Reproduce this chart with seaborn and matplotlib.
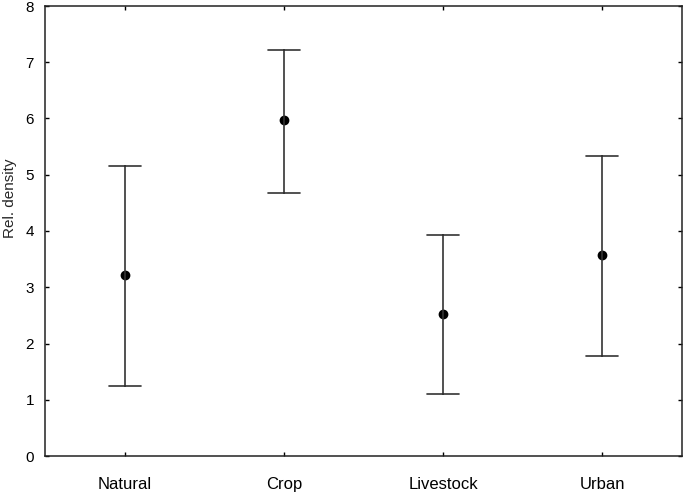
import matplotlib
matplotlib.use("Agg")
import matplotlib.pyplot as plt
import seaborn as sns
import pandas as pd

categories = ["Natural", "Crop", "Livestock", "Urban"]
means = [3.21, 5.97, 2.52, 3.57]
lowers = [1.25, 4.67, 1.10, 1.77]
uppers = [5.15, 7.22, 3.93, 5.33]

rows = []
for c, lo, m, hi in zip(categories, lowers, means, uppers):
    for v in (lo, m, hi):
        rows.append({"cat": c, "val": v})
df = pd.DataFrame(rows)

sns.set_style("ticks")
plt.rcParams["font.family"] = ["Liberation Sans", "DejaVu Sans"]

fig = plt.figure(figsize=(6.85, 4.94), dpi=100)
ax = fig.add_axes([45/685, 38/494, 637/685, 450/494])

sns.pointplot(data=df, x="cat", y="val", order=categories,
              estimator="median", errorbar=("pi", 100),
              linestyle="none", color="black", capsize=0.2,
              err_kws={"linewidth": 1.2, "color": "#333333"},
              markersize=5, ax=ax)

ax.set_xlim(-0.5, 3.5)
ax.set_ylim(0, 8)
ax.set_yticks(range(0, 9))
ax.set_xlabel("")
ax.set_ylabel("Rel. density", fontsize=11)
ax.yaxis.set_label_coords(-0.044, 0.573)
ax.tick_params(axis="both", direction="in", length=3, width=1,
               top=True, right=True, colors="black")
ax.tick_params(axis="y", labelsize=11, pad=8)
ax.tick_params(axis="x", labelsize=12, pad=15)
for s in ax.spines.values():
    s.set_visible(True)
    s.set_linewidth(1.1)
    s.set_color("#222222")

fig.savefig("out.png", dpi=100)
